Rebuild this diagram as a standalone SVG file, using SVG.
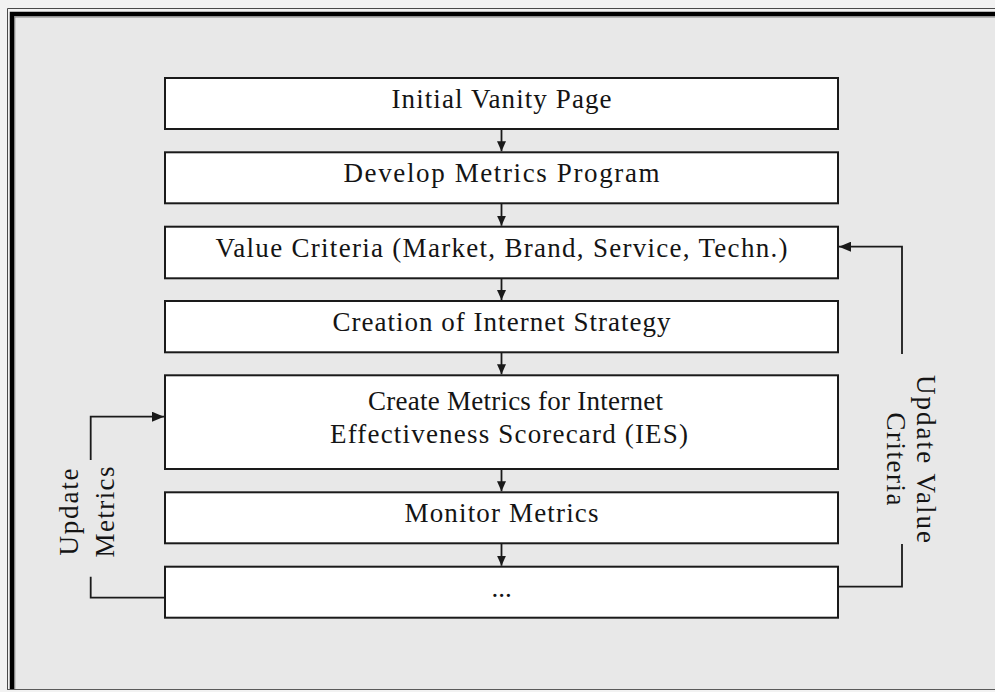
<svg xmlns="http://www.w3.org/2000/svg" width="995" height="692" viewBox="0 0 995 692">
  <style>
    .box { fill: #ffffff; stroke: #1a1a1a; stroke-width: 2; }
    .lbl { font-family: "Liberation Serif", "Times New Roman", serif; font-size: 27px; fill: #141414; text-anchor: middle; }
    .wire { fill: none; stroke: #1a1a1a; stroke-width: 1.8; }
  </style>
  <defs>
    <marker id="arrow" markerUnits="userSpaceOnUse" markerWidth="12" markerHeight="10" refX="12" refY="5" orient="auto">
      <path d="M0,0 L12,5 L0,10 Z" fill="#1a1a1a"/>
    </marker>
    <marker id="arrowSm" markerUnits="userSpaceOnUse" markerWidth="10" markerHeight="9" refX="10" refY="4.5" orient="auto">
      <path d="M0,0 L10,4.5 L0,9 Z" fill="#1a1a1a"/>
    </marker>
  </defs>

  <!-- page frame -->
  <rect x="0" y="0" width="995" height="692" fill="#f2f2f2"/>
  <rect x="14" y="16" width="981" height="674" fill="#e8e8e8"/>
  <path d="M7.5,690 V8.5 H995" fill="none" stroke="#4a4a4a" stroke-width="1"/>
  <path d="M12,690 V14 H995" fill="none" stroke="#000000" stroke-width="4.5"/>
  <path d="M14.8,690 V17 H995" fill="none" stroke="#6a6a6a" stroke-width="0.8"/>
  <path d="M7,689.5 H995" fill="none" stroke="#5a5a5a" stroke-width="1"/>

  <g id="n1">
    <rect class="box" x="165" y="78" width="673" height="51"/>
    <text class="lbl" x="501.5" y="108" textLength="220" lengthAdjust="spacing">Initial Vanity Page</text>
  </g>
  <g id="n2">
    <rect class="box" x="165" y="152.3" width="673" height="51"/>
    <text class="lbl" x="501.5" y="182.3" textLength="316" lengthAdjust="spacing">Develop Metrics Program</text>
  </g>
  <g id="n3">
    <rect class="box" x="165" y="226.7" width="673" height="51.6"/>
    <text class="lbl" x="501.5" y="256.7" textLength="572" lengthAdjust="spacing">Value Criteria (Market, Brand, Service, Techn.)</text>
  </g>
  <g id="n4">
    <rect class="box" x="165" y="301" width="673" height="51.3"/>
    <text class="lbl" x="501.5" y="331" textLength="338" lengthAdjust="spacing">Creation of Internet Strategy</text>
  </g>
  <g id="n5">
    <rect class="box" x="165" y="375.3" width="673" height="93.7"/>
    <text class="lbl" x="515.5" y="410" textLength="295" lengthAdjust="spacing">Create Metrics for Internet</text>
    <text class="lbl" x="509" y="442.5" textLength="358" lengthAdjust="spacing">Effectiveness Scorecard (IES)</text>
  </g>
  <g id="n6">
    <rect class="box" x="165" y="492.3" width="673" height="51"/>
    <text class="lbl" x="501.5" y="522.3" textLength="194" lengthAdjust="spacing">Monitor Metrics</text>
  </g>
  <g id="n7">
    <rect class="box" x="165" y="566.7" width="673" height="51"/>
    <text class="lbl" x="501.5" y="596.7">...</text>
  </g>

  <g id="connectors">
    <line class="wire" x1="501.5" y1="129" x2="501.5" y2="151.3" marker-end="url(#arrowSm)"/>
    <line class="wire" x1="501.5" y1="203.3" x2="501.5" y2="225.7" marker-end="url(#arrowSm)"/>
    <line class="wire" x1="501.5" y1="278.3" x2="501.5" y2="300" marker-end="url(#arrowSm)"/>
    <line class="wire" x1="501.5" y1="352.3" x2="501.5" y2="374.3" marker-end="url(#arrowSm)"/>
    <line class="wire" x1="501.5" y1="469" x2="501.5" y2="491.3" marker-end="url(#arrowSm)"/>
    <line class="wire" x1="501.5" y1="543.3" x2="501.5" y2="565.7" marker-end="url(#arrowSm)"/>

    <!-- value criteria feedback loop -->
    <path class="wire" d="M838,586.7 H902 V544"/>
    <path class="wire" d="M902,354 V246.7 H839" marker-end="url(#arrow)"/>
    <!-- metrics feedback loop -->
    <path class="wire" d="M165,597.7 H90.7 V576.7"/>
    <path class="wire" d="M90.7,460 V416.7 H164" marker-end="url(#arrow)"/>
  </g>

  <g id="label-update-value">
    <text class="lbl" transform="translate(917,459) rotate(90)" textLength="168" lengthAdjust="spacing">Update Value</text>
    <text class="lbl" transform="translate(887,459) rotate(90)" textLength="93" lengthAdjust="spacing">Criteria</text>
  </g>
  <g id="label-update-metrics">
    <text class="lbl" transform="translate(78,512) rotate(-90)" textLength="87" lengthAdjust="spacing">Update</text>
    <text class="lbl" transform="translate(114,512) rotate(-90)" textLength="91" lengthAdjust="spacing">Metrics</text>
  </g>
</svg>
